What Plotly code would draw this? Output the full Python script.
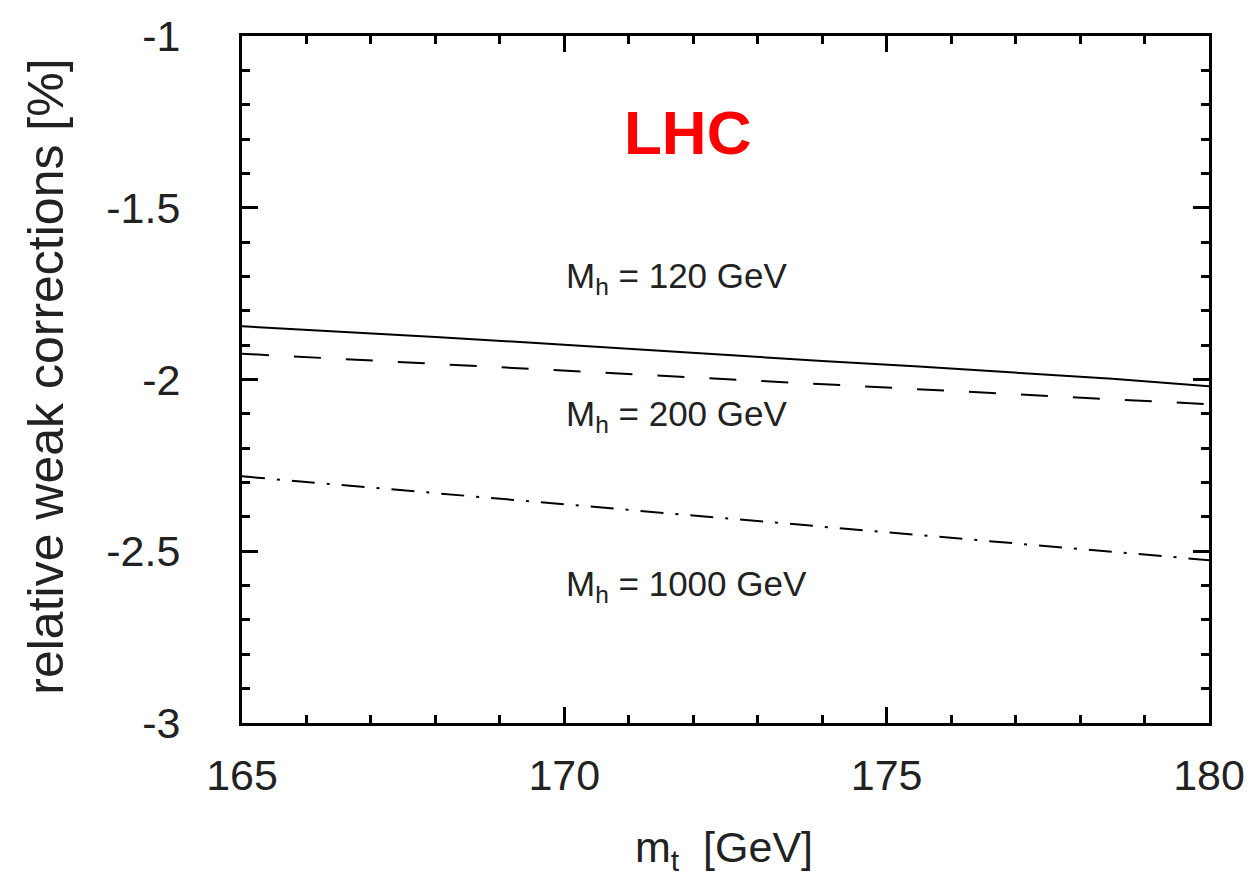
import plotly.graph_objects as go

# top-quark mass grid [GeV] and relative weak corrections [%]
mt_120 = [165, 166.5, 168, 169.5, 171, 172.5, 174, 175.5, 177, 178.5, 180]
corr_120 = [-1.845, -1.860, -1.876, -1.893, -1.911, -1.929, -1.946, -1.962, -1.979, -1.998, -2.020]

mt_200 = [165, 167.5, 170, 172.5, 175, 177.5, 180]
corr_200 = [-1.925, -1.950, -1.975, -2.000, -2.024, -2.048, -2.072]

mt_1000 = [165, 167.5, 170, 172.5, 175, 177.5, 180]
corr_1000 = [-2.282, -2.323, -2.364, -2.405, -2.446, -2.486, -2.526]

x_tickvals = [165, 170, 175, 180]
x_ticktext = ["165", "170", "175", "180"]
y_tickvals = [-1, -1.5, -2, -2.5, -3]
y_ticktext = ["-1", "-1.5", "-2", "-2.5", "-3"]

FONT = "Liberation Sans, Arial, sans-serif"

fig = go.Figure()
fig.add_trace(go.Scatter(x=mt_120, y=corr_120, mode="lines",
                         line=dict(color="black", width=2), showlegend=False))
fig.add_trace(go.Scatter(x=mt_200, y=corr_200, mode="lines",
                         line=dict(color="black", width=2, dash="27px,25px"), showlegend=False))
fig.add_trace(go.Scatter(x=mt_1000, y=corr_1000, mode="lines",
                         line=dict(color="black", width=2, dash="23px,12px,3px,12px"),
                         showlegend=False))

axis_common = dict(
    showline=True, linecolor="black", linewidth=3, mirror="ticks",
    ticks="inside", ticklen=16, tickwidth=2.5, tickcolor="black",
    showgrid=False, zeroline=False,
    tickfont=dict(family=FONT, size=43, color="#222"),
)

fig.update_xaxes(range=[165, 180], tickvals=x_tickvals, ticktext=x_ticktext,
                 minor=dict(dtick=1, ticks="inside", ticklen=8, tickwidth=2.5,
                            tickcolor="black", showgrid=False),
                 ticklabelstandoff=12, **axis_common)
fig.update_yaxes(range=[-3, -1], tickvals=y_tickvals, ticktext=y_ticktext,
                 minor=dict(dtick=0.1, tick0=-3, ticks="inside", ticklen=8, tickwidth=2.5,
                            tickcolor="black", showgrid=False),
                 ticklabelstandoff=50, **axis_common)

W, H = 1257, 884
L, R, T, B = 242, 47, 27, 161
pw, ph = W - L - R, H - T - B

label_font = dict(family=FONT, size=35, color="#222")
annotations = [
    dict(text="LHC", x=171.91, y=-1.282, xref="x", yref="y", showarrow=False,
         xanchor="center", yanchor="middle",
         font=dict(family=FONT, size=62, color="#ff0000", weight="bold")),
    dict(text="M<sub>h</sub> = 120 GeV", x=170.0, y=-1.704, xref="x", yref="y",
         showarrow=False, xanchor="left", yanchor="middle", font=label_font),
    dict(text="M<sub>h</sub> = 200 GeV", x=170.0, y=-2.106, xref="x", yref="y",
         showarrow=False, xanchor="left", yanchor="middle", font=label_font),
    dict(text="M<sub>h</sub> = 1000 GeV", x=170.0, y=-2.60, xref="x", yref="y",
         showarrow=False, xanchor="left", yanchor="middle", font=label_font),
    # axis titles
    dict(text="m<sub>t</sub>  [GeV]", x=(724 - L) / pw, y=(H - B - 852) / ph,
         xref="paper", yref="paper", showarrow=False,
         xanchor="center", yanchor="middle",
         font=dict(family=FONT, size=43, color="#222")),
    dict(text="relative weak corrections [%]", x=(45 - L) / pw,
         y=(H - B - 372) / ph, xref="paper", yref="paper",
         showarrow=False, textangle=-90, xanchor="center", yanchor="middle",
         font=dict(family=FONT, size=50, color="#222")),
]

fig.update_layout(
    width=W, height=H,
    margin=dict(l=L, r=R, t=T, b=B),
    paper_bgcolor="white", plot_bgcolor="white",
    annotations=annotations,
)

fig.write_html("out.html")
